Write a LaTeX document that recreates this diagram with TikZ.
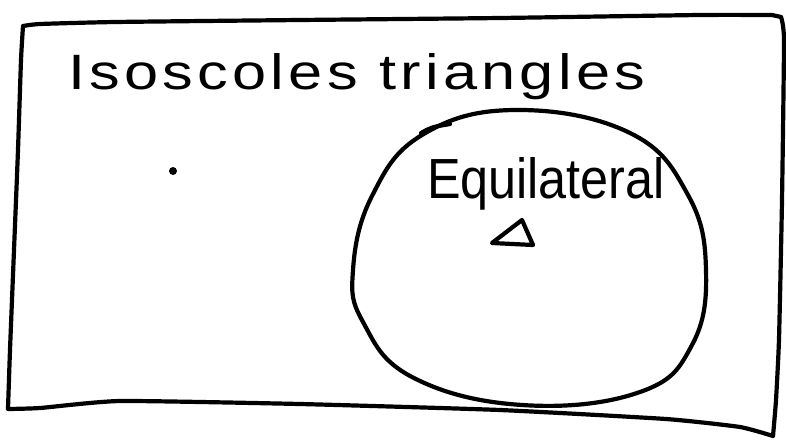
\documentclass[tikz,border=0pt]{standalone}
\usepackage{fontspec}
\setmainfont{Liberation Sans}
\newfontfamily\handfont[LetterSpace=7]{Liberation Sans}
\newfontfamily\handfontb{Liberation Sans}
\tikzset{
  pen/.style={line width=4.2pt, line cap=round, line join=round, black},
  lbl/.style={inner sep=0pt, outer sep=0pt, anchor=base west}
}
\begin{document}
\begin{tikzpicture}[x=1pt,y=-1pt]
\useasboundingbox (0,0) rectangle (786,439);
\fill[white] (0,0) rectangle (786,439);
% outer set (hand-drawn rectangle)
\draw[pen] plot[smooth, tension=0.3] coordinates {(23,26) (40,24) (115,22) (300,20) (500,18) (700,15) (772,15)}
  -- (781,17)
  plot[smooth, tension=0.3] coordinates {(781,17) (784,40) (782,200) (779,339) (776,400) (773,436)}
  plot[smooth, tension=0.3] coordinates {(773,436) (740,427) (666,419) (500,410) (300,404) (120,401) (40,408) (8,409)}
  plot[smooth, tension=0.3] coordinates {(8,409) (10,350) (14,250) (18,150) (21,60) (23,26)};
% subset (egg-shaped circle)
\draw[pen] plot[smooth cycle, tension=0.7] coordinates {(515,110) (630,133) (688,195) (706,270) (692,345) (640,392) (522,405) (412,377) (363,322) (353,270) (372,196) (422,135)};
\draw[pen] (421,133) .. controls (432,127) .. (450,124);
% labels
\node[lbl] (title) at (68,89) {\resizebox{577pt}{36pt}{\handfont Isoscoles triangles}};
\node[lbl] (eq) at (427,198) {\resizebox{238pt}{41pt}{\handfontb Equilateral}};
% small triangle
\draw[pen] (522,220) -- (492,243) -- (533,245) -- cycle;
% dot
\fill (173,171) circle (4pt);
\end{tikzpicture}
\end{document}
